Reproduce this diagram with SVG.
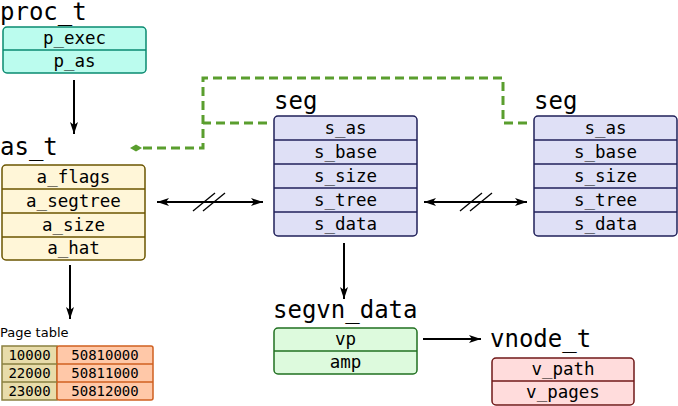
<svg xmlns="http://www.w3.org/2000/svg" width="678" height="406" viewBox="0 0 678 406">
<defs>
<style>
.title{font-family:"DejaVu Sans Mono",monospace;font-size:24px;fill:#000}
.f{font-family:"DejaVu Sans Mono",monospace;font-size:17.5px;fill:#000;text-anchor:middle}
.pt{font-family:"DejaVu Sans Mono",monospace;font-size:14px;fill:#000;text-anchor:middle}
.lbl{font-family:"DejaVu Sans",sans-serif;font-size:13px;fill:#000}
.con{stroke:#000;stroke-width:2;fill:none}
.dash{stroke:#5a9e2e;stroke-width:3;fill:none;stroke-dasharray:9,5}
.hatch{stroke:#000;stroke-width:1.3}
</style>
<marker id="ah" viewBox="0 0 12 8" refX="12" refY="4" markerWidth="12" markerHeight="8" markerUnits="userSpaceOnUse" orient="auto-start-reverse">
<path d="M0,0 L12,4 L0,8 L3,4 Z" fill="#000"/>
</marker>
<marker id="dm" viewBox="0 0 12 10" refX="1" refY="5" markerWidth="12" markerHeight="10" markerUnits="userSpaceOnUse" orient="auto">
<path d="M0,5 L6,1.5 L12,5 L6,8.5 Z" fill="#5a9e2e"/>
</marker>
</defs>
<rect width="678" height="406" fill="#fff"/>

<g id="connectors">
<line class="con" x1="74" y1="80" x2="74" y2="134" marker-end="url(#ah)"/>
<line class="con" x1="70" y1="265" x2="70" y2="319" marker-end="url(#ah)"/>
<line class="con" x1="157" y1="202" x2="263" y2="202" marker-start="url(#ah)" marker-end="url(#ah)"/>
<line class="con" x1="424" y1="202" x2="527" y2="202" marker-start="url(#ah)" marker-end="url(#ah)"/>
<line class="con" x1="344" y1="243" x2="344" y2="299" marker-end="url(#ah)"/>
<line class="con" x1="423" y1="339" x2="481" y2="339" marker-end="url(#ah)"/>
<path class="dash" d="M527 123 H503 V78 H203 V148 H141" marker-end="url(#dm)"/>
<path class="dash" d="M267 123 H203"/>
<g>
<line x1="193" y1="211" x2="215" y2="193" stroke="#fff" stroke-width="4"/>
<line x1="203" y1="211" x2="225" y2="193" stroke="#fff" stroke-width="4"/>
<line class="hatch" x1="193" y1="211" x2="215" y2="193"/>
<line class="hatch" x1="203" y1="211" x2="225" y2="193"/>
<line x1="460" y1="211" x2="482" y2="193" stroke="#fff" stroke-width="4"/>
<line x1="470" y1="211" x2="492" y2="193" stroke="#fff" stroke-width="4"/>
<line class="hatch" x1="460" y1="211" x2="482" y2="193"/>
<line class="hatch" x1="470" y1="211" x2="492" y2="193"/>
<line class="con" x1="190" y1="202" x2="230" y2="202"/>
<line class="con" x1="457" y1="202" x2="497" y2="202"/>
</g>
</g>

<g id="proc_t">
<text class="title" x="0" y="20">proc_t</text>
<rect x="3" y="27" width="143" height="46" rx="4" fill="#bbfcee" stroke="#0a8a70" stroke-width="1.5"/>
<line x1="3" y1="50" x2="146" y2="50" stroke="#0a8a70" stroke-width="1.5"/>
<text class="f" x="74.5" y="44">p_exec</text>
<text class="f" x="74.5" y="67">p_as</text>
</g>

<g id="as_t">
<text class="title" x="0" y="155">as_t</text>
<rect x="2" y="165" width="143" height="95" rx="4" fill="#fff6d8" stroke="#6b5500" stroke-width="1.5"/>
<g stroke="#6b5500" stroke-width="1.5">
<line x1="2" y1="189" x2="145" y2="189"/>
<line x1="2" y1="213" x2="145" y2="213"/>
<line x1="2" y1="237" x2="145" y2="237"/>
</g>
<text class="f" x="73.5" y="183">a_flags</text>
<text class="f" x="73.5" y="207">a_segtree</text>
<text class="f" x="73.5" y="231">a_size</text>
<text class="f" x="73.5" y="254">a_hat</text>
</g>

<g id="page_table">
<text class="lbl" x="0" y="337">Page table</text>
<rect x="2" y="346" width="55" height="54" fill="#e8dcaa" stroke="#8a8040" stroke-width="1.5"/>
<rect x="57" y="346" width="96" height="54" rx="2" fill="#ffc8a8" stroke="#d06020" stroke-width="1.5"/>
<g stroke="#8a8040" stroke-width="1.5">
<line x1="2" y1="364" x2="57" y2="364"/>
<line x1="2" y1="382" x2="57" y2="382"/>
</g>
<g stroke="#d06020" stroke-width="1.5">
<line x1="57" y1="364" x2="153" y2="364"/>
<line x1="57" y1="382" x2="153" y2="382"/>
</g>
<text class="pt" x="29.5" y="360">10000</text>
<text class="pt" x="29.5" y="378">22000</text>
<text class="pt" x="29.5" y="396">23000</text>
<text class="pt" x="105" y="360">50810000</text>
<text class="pt" x="105" y="378">50811000</text>
<text class="pt" x="105" y="396">50812000</text>
</g>

<g id="seg1">
<text class="title" x="274" y="109">seg</text>
<rect x="274" y="116" width="143" height="120" rx="4" fill="#dfe0f6" stroke="#20205a" stroke-width="1.5"/>
<g stroke="#20205a" stroke-width="1.5">
<line x1="274" y1="140" x2="417" y2="140"/>
<line x1="274" y1="164" x2="417" y2="164"/>
<line x1="274" y1="188" x2="417" y2="188"/>
<line x1="274" y1="212" x2="417" y2="212"/>
</g>
<text class="f" x="345.5" y="134">s_as</text>
<text class="f" x="345.5" y="158">s_base</text>
<text class="f" x="345.5" y="182">s_size</text>
<text class="f" x="345.5" y="206">s_tree</text>
<text class="f" x="345.5" y="230">s_data</text>
</g>

<g id="seg2">
<text class="title" x="534" y="109">seg</text>
<rect x="534" y="116" width="143" height="120" rx="4" fill="#dfe0f6" stroke="#20205a" stroke-width="1.5"/>
<g stroke="#20205a" stroke-width="1.5">
<line x1="534" y1="140" x2="677" y2="140"/>
<line x1="534" y1="164" x2="677" y2="164"/>
<line x1="534" y1="188" x2="677" y2="188"/>
<line x1="534" y1="212" x2="677" y2="212"/>
</g>
<text class="f" x="605.5" y="134">s_as</text>
<text class="f" x="605.5" y="158">s_base</text>
<text class="f" x="605.5" y="182">s_size</text>
<text class="f" x="605.5" y="206">s_tree</text>
<text class="f" x="605.5" y="230">s_data</text>
</g>

<g id="segvn_data">
<text class="title" x="273" y="318">segvn_data</text>
<rect x="274" y="328" width="143" height="46" rx="4" fill="#ddfadd" stroke="#207020" stroke-width="1.5"/>
<line x1="274" y1="351" x2="417" y2="351" stroke="#207020" stroke-width="1.5"/>
<text class="f" x="345.5" y="345">vp</text>
<text class="f" x="345.5" y="368">amp</text>
</g>

<g id="vnode_t">
<text class="title" x="490" y="347">vnode_t</text>
<rect x="492" y="358" width="142" height="47" rx="4" fill="#ffdcdc" stroke="#701818" stroke-width="1.5"/>
<line x1="492" y1="381" x2="634" y2="381" stroke="#701818" stroke-width="1.5"/>
<text class="f" x="563" y="375">v_path</text>
<text class="f" x="563" y="398">v_pages</text>
</g>
</svg>
